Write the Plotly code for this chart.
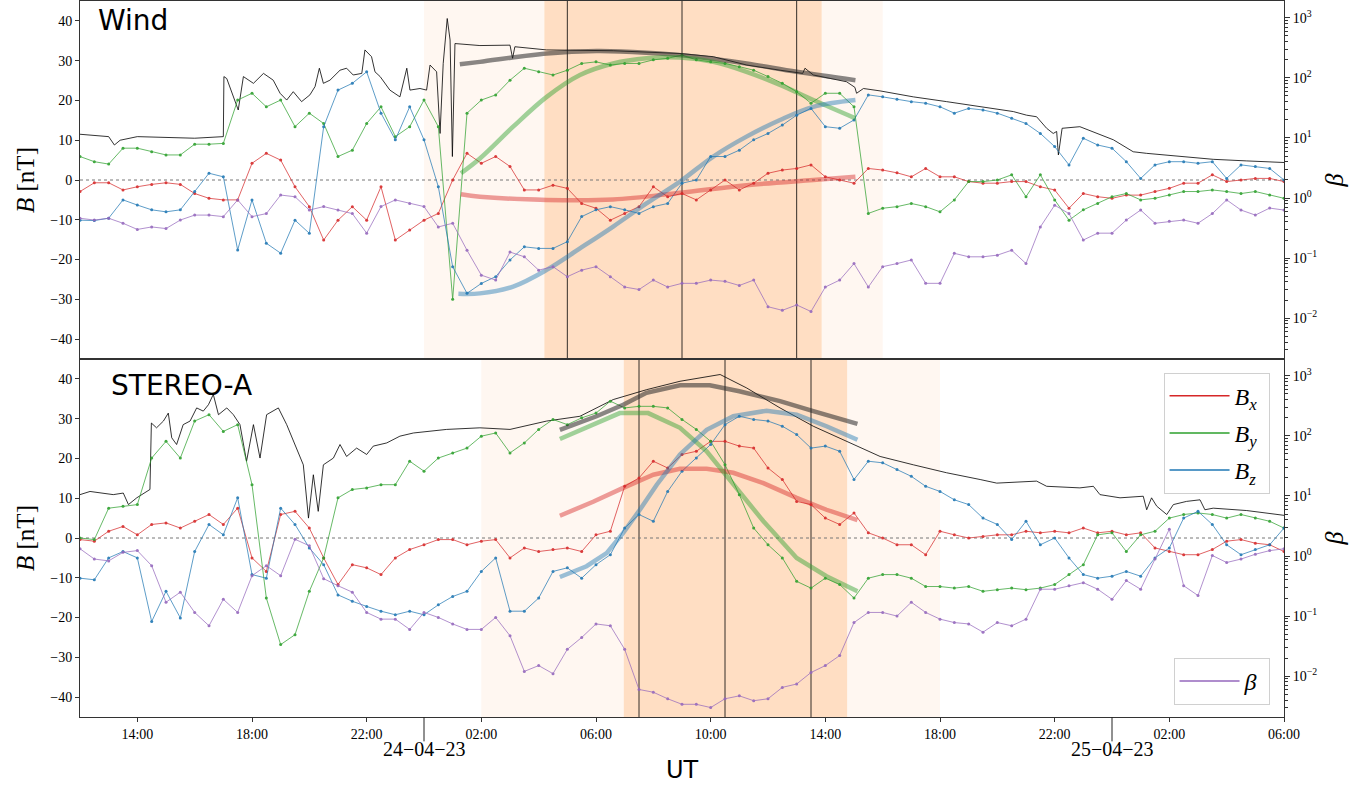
import pandas as pd
import plotly.graph_objects as go
from plotly.subplots import make_subplots

# ---------------- time base ----------------
T0 = pd.Timestamp("2023-04-23 12:00")
GRID_H = [i * 0.5 for i in range(85)]          # hours after T0, 0.5 h steps

# ---------------- Wind (top panel) ----------------
WIND_BX = [-2.9, -0.7, -0.7, -2.5, -1.7, -1.1, -0.7, -1.1, -3.4, -4.6,
           -5.0, -5.0, 4.2, 6.7, 5.0, -1.7, -6.7, -15.1, -10.1, -6.7,
           -10.1, -1.7, -15.1, -12.6, -10.1, -8.4, 0.0, 6.7, 4.2, 5.9,
           3.4, -2.5, -2.5, -1.3, -2.1, -5.9, -7.1, -10.1, -8.4, -6.7,
           -1.7, -4.2, -3.4, -5.0, -2.5, 0.0, -2.5, -0.8, 1.7, 2.5,
           2.9, 3.8, 0.8, 0.0, -0.8, 2.9, 2.5, 1.8, 0.8, 2.9,
           0.8, 0.8, -0.4, -0.8, -0.8, -0.4, -0.4, -1.7, -2.5, -7.1,
           -3.4, -4.2, -4.6, -3.8, -3.8, -2.9, -2.1, -0.8, -0.8, 1.3,
           -0.4, 0.0, 0.4, 0.4, -0.4]
WIND_BY = [5.9, 4.6, 4.0, 8.0, 8.0, 7.1, 6.3, 6.3, 9.0, 9.0,
           9.2, 20.1, 21.8, 18.4, 20.1, 13.4, 16.8, 14.2, 5.9, 7.5,
           14.2, 18.4, 10.9, 13.4, 20.1, 13.4, -30.0, 16.8, 20.1, 21.4,
           25.1, 28.1, 27.2, 26.4, 27.6, 29.3, 29.7, 28.9, 29.3, 29.3,
           30.2, 30.6, 31.4, 30.2, 29.7, 29.3, 28.5, 27.6, 26.0, 24.3,
           22.2, 19.3, 21.8, 21.8, 18.4, -8.4, -7.1, -6.7, -5.9, -6.7,
           -8.0, -5.0, -0.4, -0.4, 0.0, 1.3, -4.2, 1.3, -5.0, -10.1,
           -7.5, -5.9, -4.2, -3.4, -5.0, -4.6, -3.8, -2.9, -2.9, -2.5,
           -2.9, -3.4, -2.9, -3.8, -4.6]
WIND_BZ = [-10.1, -10.2, -9.6, -5.0, -6.3, -7.5, -8.0, -7.5, -2.9, 1.7,
           0.8, -17.6, -5.0, -15.9, -18.4, -10.1, -13.4, 13.4, 22.6, 24.3,
           27.2, 16.8, 10.1, 18.4, 10.1, -1.7, -21.8, -28.5, -26.0, -24.3,
           -20.1, -16.8, -17.2, -17.2, -15.5, -9.2, -7.5, -6.7, -7.5, -8.4,
           -6.7, -5.9, -0.8, 0.0, 5.9, 5.9, 7.5, 10.1, 11.7, 13.8,
           16.3, 18.0, 13.4, 13.0, 15.1, 21.4, 20.9, 20.3, 19.7, 19.3,
           18.4, 16.8, 18.0, 17.6, 16.8, 15.5, 14.2, 11.7, 8.4, 3.8,
           10.5, 8.8, 8.0, 4.6, 0.4, 3.8, 4.6, 4.6, 4.2, 4.6,
           0.4, 3.8, 3.4, 2.9, 0.0]
WIND_BETA = [0.46, 0.43, 0.46, 0.38, 0.30, 0.33, 0.31, 0.43, 0.52, 0.52,
             0.49, 0.93, 0.49, 0.55, 1.12, 1.05, 0.63, 0.72, 0.63, 0.55,
             0.26, 0.72, 0.93, 0.81, 0.72, 0.33, 0.38, 0.135, 0.052, 0.043,
             0.126, 0.105, 0.063, 0.072, 0.049, 0.063, 0.072, 0.049, 0.033, 0.030,
             0.043, 0.033, 0.038, 0.038, 0.043, 0.041, 0.035, 0.043, 0.0155, 0.0135,
             0.0166, 0.0129, 0.033, 0.043, 0.081, 0.033, 0.072, 0.081, 0.093, 0.038,
             0.038, 0.12, 0.105, 0.105, 0.112, 0.135, 0.081, 0.33, 0.76, 0.55,
             0.20, 0.26, 0.26, 0.43, 0.63, 0.38, 0.41, 0.43, 0.38, 0.55,
             0.93, 0.63, 0.52, 0.68, 0.63]
WIND_BT_H = [0, 1.0, 1.2, 1.4, 2.0, 3.0, 4.0, 5.0, 5.02, 5.12, 5.52, 5.70, 6.05, 6.40,
             6.74, 6.98, 7.21, 7.44, 7.73, 8.02, 8.20, 8.35, 8.49, 8.72, 9.07, 9.30,
             9.53, 9.83, 9.94, 10.17, 10.29, 10.47, 10.81, 11.16, 11.40, 11.51, 11.86,
             12.09, 12.21, 12.44, 12.56, 12.67, 12.81, 12.91, 12.99, 13.08, 13.95,
             15.0, 15.09, 15.17, 16.28, 18.6, 20.93, 22.09, 23.26, 24.42, 25.21, 25.29,
             25.58, 26.74, 27.03, 27.09, 27.33, 27.91, 29.07, 30.23, 31.4, 32.56, 33.02,
             33.37, 33.72, 33.95, 34.07, 34.13, 34.26, 34.88, 36.05, 36.74, 37.21,
             38.37, 39.53, 40.7, 42.0]
WIND_BT = [11.5, 10.9, 8.8, 10.0, 10.9, 10.7, 10.5, 10.9, 26.0, 25.5, 17.6, 26.0, 24.3, 26.8,
           25.1, 21.8, 20.1, 22.2, 19.7, 21.4, 23.5, 28.1, 24.3, 25.1, 27.6, 28.1,
           26.4, 26.8, 32.7, 31.0, 27.2, 26.0, 22.6, 20.9, 28.1, 22.6, 23.0,
           22.6, 28.9, 27.2, 11.7, 29.3, 40.6, 35.2, 5.9, 34.3, 33.8,
           33.9, 30.6, 33.5, 32.7, 32.5, 31.8, 31.0, 28.9, 27.6, 26.8, 28.1,
           26.4, 24.7, 23.3, 21.8, 23.0, 22.4, 20.9, 19.7, 18.4, 17.2, 16.3,
           15.9, 13.0, 11.7, 12.2, 6.3, 13.0, 13.4, 10.1, 7.1, 6.7,
           5.9, 5.2, 4.8, 4.4]

# Wind flux-rope fit curves
WIND_FIT_BT_H = [13.25, 13.95, 16.28, 18.02, 19.76, 21.5, 23.25, 25.0, 27.05]
WIND_FIT_BT = [29.1, 29.7, 31.8, 32.4, 32.0, 31.0, 29.3, 27.2, 25.1]
WIND_FIT_BX_H = [13.29, 13.95, 16.28, 18.6, 20.93, 23.25, 25.58, 27.05]
WIND_FIT_BX = [-3.6, -4.2, -5.0, -4.9, -3.2, -1.3, 0.0, 0.8]
WIND_FIT_BY_H = [13.29, 13.95, 15.11, 16.28, 17.44, 18.6, 19.76, 20.93, 22.09, 23.25, 24.42, 25.58, 27.05]
WIND_FIT_BY = [1.7, 5.4, 13.4, 20.9, 26.4, 29.3, 30.6, 30.8, 29.7, 27.2, 23.9, 20.1, 15.5]
WIND_FIT_BZ_H = [13.2, 13.95, 15.11, 16.28, 17.44, 18.6, 19.76, 20.93, 22.09, 23.25, 24.42, 25.58, 27.05]
WIND_FIT_BZ = [-28.6, -28.5, -26.8, -22.6, -17.2, -11.7, -5.9, -0.4, 5.9, 10.9, 15.1, 18.4, 20.1]

# ---------------- STEREO-A (bottom panel) ----------------
STA_BX = [-0.4, -0.8, 1.7, 2.9, 0.8, 3.4, 3.8, 2.5, 4.2, 5.9,
          3.4, 7.5, -5.0, -8.4, 5.9, 6.7, 2.5, -5.0, -11.7, -6.7,
          -7.5, -9.2, -5.0, -2.9, -1.7, -0.4, -0.4, -1.7, -0.8, -0.4,
          -5.0, -2.5, -3.4, -2.9, -2.5, -3.4, 0.8, 1.7, 13.0, 15.1,
          19.3, 17.6, 21.0, 21.8, 24.3, 24.3, 23.1, 22.6, 17.6, 14.7,
          9.2, 8.4, 5.0, 3.4, 6.3, 1.3, 0.0, -1.7, -1.7, -4.2,
          1.7, 0.8, 0.0, 0.4, 0.8, 0.8, 1.7, 1.3, 1.7, 1.3,
          2.5, 1.3, 1.7, 0.8, 1.3, -2.5, -3.4, -4.2, -4.2, -2.9,
          -0.8, -0.4, -1.3, -1.7, -3.4]
STA_BY = [0.0, -0.4, 7.5, 8.0, 8.4, 20.1, 24.3, 20.1, 29.4, 31.0,
          26.8, 28.5, 13.4, -15.1, -26.8, -24.3, -13.4, -5.0, 10.1, 12.2,
          12.6, 13.4, 13.4, 19.3, 16.8, 20.1, 21.4, 22.6, 25.6, 26.4,
          21.4, 23.9, 27.3, 29.8, 28.5, 30.2, 31.4, 34.4, 32.7, 33.1,
          33.1, 32.7, 29.8, 27.3, 24.3, 18.4, 10.9, 2.5, -1.7, -5.0,
          -10.9, -12.6, -10.1, -11.7, -15.1, -10.1, -9.2, -9.2, -10.1, -12.2,
          -12.2, -12.6, -12.2, -13.4, -13.0, -12.6, -13.0, -12.6, -11.7, -9.2,
          -6.7, 0.8, 1.3, -3.4, 0.8, 1.7, 5.0, 5.9, 6.3, 5.9,
          5.0, 5.9, 5.0, 4.2, 2.5]
STA_BZ = [-10.1, -10.5, -5.0, -3.4, -5.0, -21.0, -13.4, -20.1, -3.4, 3.4,
          0.8, 10.1, -9.2, -10.1, 7.5, 3.4, -2.5, -6.7, -14.3, -15.9,
          -17.2, -18.4, -19.3, -18.4, -19.3, -16.8, -14.7, -13.4, -8.4, -5.0,
          -18.4, -18.4, -15.1, -8.4, -7.5, -10.1, -6.7, -4.2, 2.5, 5.9,
          4.2, 11.7, 16.8, 20.1, 23.5, 28.5, 30.6, 29.8, 29.4, 28.1,
          26.0, 22.6, 23.1, 21.8, 14.7, 19.3, 18.9, 17.2, 15.5, 13.0,
          11.7, 9.6, 8.4, 5.0, 3.4, -0.4, 4.2, -1.7, 0.0, -5.0,
          -9.2, -10.1, -9.6, -8.4, -9.6, -5.0, -2.5, 5.0, 6.7, 3.4,
          -1.7, -4.2, -2.9, -1.7, 2.5]
STA_BETA = [1.32, 0.89, 0.83, 1.15, 1.23, 0.69, 0.17, 0.25, 0.115, 0.069,
            0.19, 0.115, 0.47, 0.69, 0.47, 1.9, 1.48, 0.42, 0.32, 0.25,
            0.115, 0.089, 0.089, 0.06, 0.115, 0.095, 0.074, 0.06, 0.06, 0.095,
            0.047, 0.012, 0.015, 0.011, 0.028, 0.044, 0.074, 0.069, 0.028, 0.006,
            0.0054, 0.0042, 0.0034, 0.0034, 0.003, 0.0042, 0.0047, 0.0039, 0.0042, 0.0065,
            0.0074, 0.0115, 0.015, 0.022, 0.078, 0.115, 0.115, 0.10, 0.17, 0.115,
            0.089, 0.078, 0.074, 0.054, 0.078, 0.069, 0.089, 0.28, 0.28, 0.32,
            0.36, 0.28, 0.19, 0.39, 0.28, 0.89, 2.8, 0.32, 0.22, 1.02,
            0.78, 0.89, 1.07, 1.23, 1.32]
STA_BT_H = [0, 0.35, 1.16, 1.51, 1.69, 1.98, 2.44, 2.49, 2.67, 2.91, 3.08, 3.20, 3.37,
            3.60, 3.84, 4.07, 4.30, 4.48, 4.65, 4.83, 5.12, 5.35, 5.58, 5.81, 6.05,
            6.28, 6.51, 6.74, 6.92, 7.21, 7.56, 7.79, 7.97, 8.14, 8.31, 8.49, 8.84,
            9.07, 9.30, 9.65, 10.0, 10.23, 10.70, 11.16, 11.63, 12.79, 13.95, 15.0,
            16.28, 17.44, 18.6, 19.77, 20.93, 22.09, 22.33, 23.26, 24.42, 25.58,
            26.74, 27.91, 29.07, 30.23, 31.4, 31.98, 33.37, 33.72, 34.88, 35.35,
            35.58, 36.28, 37.09, 37.21, 37.38, 37.56, 37.91, 38.14, 38.6, 39.07,
            39.24, 39.53, 40.7, 42.0]
STA_BT = [10.9, 11.7, 10.9, 11.3, 8.4, 10.1, 12.2, 28.9, 27.7, 29.4, 31.4, 25.2, 23.5,
          28.5, 29.4, 32.7, 31.9, 33.5, 36.1, 31.0, 32.7, 31.0, 28.5, 19.3, 28.5,
          20.1, 31.0, 31.9, 32.7, 28.5, 22.6, 18.4, 5.0, 15.9, 6.7, 18.4, 20.1,
          23.5, 20.5, 22.6, 21.0, 23.1, 23.9, 25.6, 26.4, 27.3, 27.7, 27.3,
          29.4, 30.6, 34.8, 37.3, 39.4, 40.7, 41.1, 37.7, 32.7, 28.1,
          24.3, 20.5, 18.4, 16.4, 14.7, 13.8, 14.3, 13.0, 12.6, 13.0,
          10.9, 10.1, 10.5, 7.1, 10.1, 8.0, 5.9, 8.4, 9.2, 9.6,
          7.1, 7.5, 6.9, 5.7]

STA_FIT_BT_H = [16.74, 18.02, 18.95, 19.76, 20.93, 21.97, 23.0, 24.42, 25.58, 27.12]
STA_FIT_BT = [27.2, 30.6, 33.5, 36.5, 38.4, 38.4, 36.9, 34.4, 31.9, 28.7]
STA_FIT_BX_H = [16.74, 17.9, 18.95, 20.0, 20.93, 21.86, 22.79, 23.84, 25.0, 26.04, 27.12]
STA_FIT_BX = [5.6, 9.1, 12.6, 15.9, 17.4, 17.4, 16.4, 13.8, 10.1, 7.1, 4.5]
STA_FIT_BY_H = [16.74, 17.79, 18.83, 19.82, 20.93, 21.86, 22.79, 23.84, 25.0, 26.04, 27.12]
STA_FIT_BY = [24.9, 28.1, 31.4, 31.4, 27.7, 21.8, 13.4, 4.2, -5.0, -9.6, -13.4]
STA_FIT_BZ_H = [16.74, 17.67, 18.37, 18.95, 19.53, 20.12, 20.93, 21.86, 22.79, 23.95, 25.0, 26.04, 27.12]
STA_FIT_BZ = [-9.8, -7.1, -3.8, 1.3, 7.1, 13.4, 21.0, 27.2, 30.6, 32.0, 31.0, 28.1, 24.7]

# ---------------- intervals (hours after T0) ----------------
WIND_SHEATH = (12.0, 28.0)
WIND_MO = (16.2, 25.87)
WIND_LINES = [17.0, 21.0, 25.0]
STA_SHEATH = (14.0, 30.0)
STA_MO = (18.97, 26.76)
STA_LINES = [19.5, 22.5, 25.5]

# ---------------- axis ticks ----------------
X_TICK_H = [2, 6, 10, 14, 18, 22, 26, 30, 34, 38, 42]
X_TICK_TEXT = ["14:00", "18:00", "22:00", "02:00", "06:00", "10:00",
               "14:00", "18:00", "22:00", "02:00", "06:00"]
DATE_H = [12, 36]
DATE_TEXT = ["24\u221204\u221223", "25\u221204\u221223"]
B_TICKS = [-40, -30, -20, -10, 0, 10, 20, 30, 40]
BETA_TICKS = [0.01, 0.1, 1, 10, 100, 1000]
BETA_TEXT = ["10<sup>\u22122</sup>", "10<sup>\u22121</sup>", "10<sup>0</sup>",
             "10<sup>1</sup>", "10<sup>2</sup>", "10<sup>3</sup>"]

RED, GREEN, BLUE, PURPLE = "#d62728", "#2ca02c", "#1f77b4", "#9467bd"
SERIF = "Liberation Serif"
SANS = "DejaVu Sans"


def tt(hours):
    return [T0 + pd.Timedelta(hours=h) for h in hours]


fig = make_subplots(rows=2, cols=1, shared_xaxes=True, vertical_spacing=0.0,
                    specs=[[{"secondary_y": True}], [{"secondary_y": True}]])


def dots(vals, color, row, sec=False):
    fig.add_trace(go.Scatter(x=tt(GRID_H), y=vals, mode="lines+markers",
                             line=dict(color=color, width=0.8),
                             marker=dict(color=color, size=3),
                             opacity=0.9, showlegend=False, hoverinfo="skip"),
                  row=row, col=1, secondary_y=sec)


def fit(hours, vals, color, row, shape):
    fig.add_trace(go.Scatter(x=tt(hours), y=vals, mode="lines",
                             line=dict(color=color, width=4.5, shape=shape),
                             showlegend=False, hoverinfo="skip"),
                  row=row, col=1, secondary_y=False)


# panel data
for row, (bx, by, bz, beta, bth, bt) in enumerate(
        [(WIND_BX, WIND_BY, WIND_BZ, WIND_BETA, WIND_BT_H, WIND_BT),
         (STA_BX, STA_BY, STA_BZ, STA_BETA, STA_BT_H, STA_BT)], start=1):
    fig.add_trace(go.Scatter(x=tt(bth), y=bt, mode="lines",
                             line=dict(color="black", width=0.8),
                             showlegend=False, hoverinfo="skip"),
                  row=row, col=1, secondary_y=False)
    dots(bx, RED, row)
    dots(by, GREEN, row)
    dots(bz, BLUE, row)

fit(WIND_FIT_BT_H, WIND_FIT_BT, "rgba(40,40,40,0.55)", 1, "spline")
fit(WIND_FIT_BX_H, WIND_FIT_BX, "rgba(214,39,40,0.45)", 1, "spline")
fit(WIND_FIT_BY_H, WIND_FIT_BY, "rgba(44,160,44,0.45)", 1, "spline")
fit(WIND_FIT_BZ_H, WIND_FIT_BZ, "rgba(31,119,180,0.45)", 1, "spline")
fit(STA_FIT_BT_H, STA_FIT_BT, "rgba(40,40,40,0.55)", 2, "linear")
fit(STA_FIT_BX_H, STA_FIT_BX, "rgba(214,39,40,0.45)", 2, "linear")
fit(STA_FIT_BY_H, STA_FIT_BY, "rgba(44,160,44,0.45)", 2, "linear")
fit(STA_FIT_BZ_H, STA_FIT_BZ, "rgba(31,119,180,0.45)", 2, "linear")

dots(WIND_BETA, PURPLE, 1, sec=True)
dots(STA_BETA, PURPLE, 2, sec=True)

# legend entries
for name, col, grp in [("<i>B</i><sub><i>x</i></sub> ", RED, "bx"),
                       ("<i>B</i><sub><i>y</i></sub> ", GREEN, "by"),
                       ("<i>B</i><sub><i>z</i></sub> ", BLUE, "bz")]:
    fig.add_trace(go.Scatter(x=[None], y=[None], mode="lines", name=name,
                             line=dict(color=col, width=1.5), legend="legend",
                             legendgroup=grp), row=2, col=1)
fig.add_trace(go.Scatter(x=[None], y=[None], mode="lines", name="<i>\u03b2</i> ",
                         line=dict(color=PURPLE, width=1.5), legend="legend2"),
              row=2, col=1)

# shaded intervals, boundary lines and zero lines
shapes = []
for xr, yr, sh, mo, lines in [("x", "y domain", WIND_SHEATH, WIND_MO, WIND_LINES),
                              ("x2", "y3 domain", STA_SHEATH, STA_MO, STA_LINES)]:
    shapes.append(dict(type="rect", xref=xr, yref=yr, x0=tt([sh[0]])[0], x1=tt([sh[1]])[0],
                       y0=0, y1=1, fillcolor="rgba(255,127,14,0.06)", line_width=0, layer="below"))
    shapes.append(dict(type="rect", xref=xr, yref=yr, x0=tt([mo[0]])[0], x1=tt([mo[1]])[0],
                       y0=0, y1=1, fillcolor="rgba(255,127,14,0.2)", line_width=0, layer="below"))
    for h in lines:
        shapes.append(dict(type="line", xref=xr, yref=yr, x0=tt([h])[0], x1=tt([h])[0],
                           y0=0, y1=1, line=dict(color="black", width=0.8), layer="below"))
for yr in ["y", "y3"]:
    shapes.append(dict(type="line", xref="paper", yref=yr, x0=0, x1=1, y0=0, y1=0,
                       line=dict(color="#777", width=1, dash="dot"), layer="below"))
for h in DATE_H:
    shapes.append(dict(type="line", xref="x2", yref="paper", x0=tt([h])[0], x1=tt([h])[0],
                       y0=0, y1=-0.034, line=dict(color="#222", width=1)))

annotations = [
    dict(text="Wind", xref="paper", yref="paper", x=0.013, y=0.999, xanchor="left",
         yanchor="top", showarrow=False, font=dict(family=SANS, size=28, color="black")),
    dict(text="STEREO-A", xref="paper", yref="paper", x=0.024, y=0.489, xanchor="left",
         yanchor="top", showarrow=False, font=dict(family=SANS, size=28, color="black")),
    dict(text="UT", xref="paper", yref="paper", x=0.5, y=-0.074, xanchor="center",
         yanchor="middle", showarrow=False, font=dict(family=SANS, size=24, color="black")),
]
for h, txt in zip(DATE_H, DATE_TEXT):
    annotations.append(dict(text=txt, xref="x2", yref="paper", x=tt([h])[0], y=-0.026,
                            xanchor="center", yanchor="top", showarrow=False,
                            font=dict(family=SERIF, size=20, color="black")))

AX = "#333"
fig.update_layout(
    width=1372, height=787, margin=dict(l=80, r=88, t=1, b=70),
    paper_bgcolor="white", plot_bgcolor="white",
    shapes=shapes, annotations=annotations,
    legend=dict(x=0.988, y=0.481, xanchor="right", yanchor="top",
                bordercolor="#d0d0d0", borderwidth=1, bgcolor="rgba(255,255,255,0.85)",
                font=dict(family=SERIF, size=24, color="black"), tracegroupgap=3,
                itemwidth=60),
    legend2=dict(x=0.988, y=0.017, xanchor="right", yanchor="bottom",
                 bordercolor="#d0d0d0", borderwidth=1, bgcolor="rgba(255,255,255,0.85)",
                 font=dict(family=SERIF, size=24, color="black"), itemwidth=60),
)

xr = [T0, T0 + pd.Timedelta(hours=42)]
fig.update_xaxes(domain=[0, 1], range=xr, showline=True, mirror=True, linecolor=AX,
                 linewidth=1, showgrid=False, zeroline=False, automargin=False)
fig.update_xaxes(showticklabels=False, ticks="", row=1, col=1)
fig.update_xaxes(tickmode="array", tickvals=tt(X_TICK_H), ticktext=X_TICK_TEXT,
                 ticks="outside", ticklen=4, tickcolor=AX,
                 tickfont=dict(family=SERIF, size=14, color="black"), row=2, col=1)

for row in [1, 2]:
    fig.update_yaxes(range=[-45, 45], tickmode="array", tickvals=B_TICKS,
                     ticktext=[str(v).replace("-", "\u2212") for v in B_TICKS],
                     ticks="outside", ticklen=4, tickcolor=AX, showline=True,
                     linecolor=AX, linewidth=1, showgrid=False, zeroline=False,
                     automargin=False,
                     tickfont=dict(family=SERIF, size=14, color="black"),
                     title=dict(text="<i>B</i> [nT]", standoff=8,
                                font=dict(family=SERIF, size=25, color="black")),
                     row=row, col=1, secondary_y=False)
    fig.update_yaxes(type="log", range=[-2.68, 3.28], tickmode="array",
                     tickvals=BETA_TICKS, ticktext=BETA_TEXT, ticks="outside",
                     ticklen=5, tickcolor=AX, showline=True, linecolor=AX, linewidth=1,
                     showgrid=False, zeroline=False, automargin=False,
                     minor=dict(ticks="outside", ticklen=2.5, tickcolor=AX, dtick="D1",
                                showgrid=False),
                     tickfont=dict(family=SERIF, size=14, color="black"),
                     title=dict(text="<i>\u03b2</i>", standoff=8,
                                font=dict(family=SERIF, size=26, color="black")),
                     row=row, col=1, secondary_y=True)

# remove the browser's default page margin so the figure sits at the window origin
fig.write_html("out.html", config={"displayModeBar": False},
               post_script="document.body.style.margin='0';")
